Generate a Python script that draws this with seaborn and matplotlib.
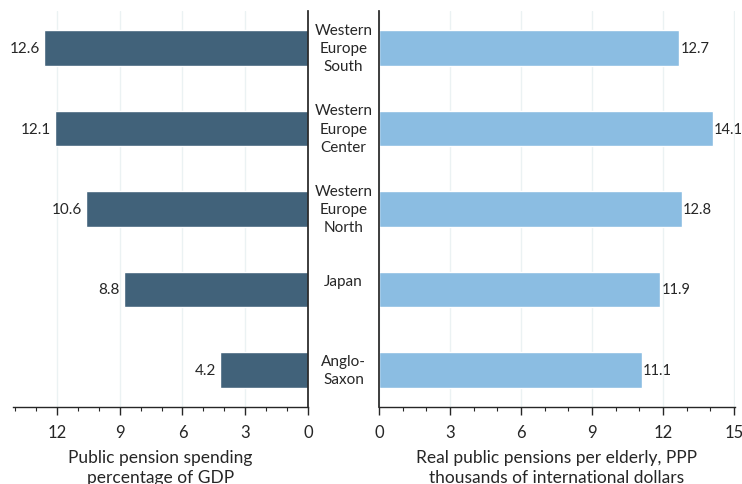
import numpy as np
import pandas as pd
import matplotlib.pyplot as plt
import seaborn as sns
from matplotlib.ticker import MultipleLocator
import matplotlib.transforms as mtransforms

regions = ["Western\nEurope\nSouth", "Western\nEurope\nCenter", "Western\nEurope\nNorth",
           "Japan", "Anglo-\nSaxon"]
spending_gdp = [12.6, 12.1, 10.6, 8.8, 4.2]
pension_per_elderly = [12.7, 14.1, 12.8, 11.9, 11.1]

left_ticks = [12, 9, 6, 3, 0]
right_ticks = [0, 3, 6, 9, 12, 15]

dark_blue = "#41627a"
light_blue = "#8bbde2"
text_col = "#262626"

sns.set_theme(style="white")
plt.rcParams['font.family'] = ['Lato', 'DejaVu Sans']

df = pd.DataFrame({"region": regions, "gdp": spending_gdp, "ppp": pension_per_elderly})

fig = plt.figure(figsize=(7.42, 4.85), dpi=100)
ax_l = fig.add_axes([13 / 742, 1 - 408 / 485, (308 - 13) / 742, (408 - 12) / 485])
ax_r = fig.add_axes([379 / 742, 1 - 408 / 485, (735 - 379) / 742, (408 - 12) / 485])

sns.barplot(data=df, x="gdp", y="region", order=regions, color=dark_blue,
            width=0.44, ax=ax_l, saturation=1)
sns.barplot(data=df, x="ppp", y="region", order=regions, color=light_blue,
            width=0.44, ax=ax_r, saturation=1)

ax_l.set_xlim(14.1, 0)
ax_r.set_xlim(0, 15.05)

for ax, ticks in [(ax_l, left_ticks), (ax_r, right_ticks)]:
    ax.set_ylim(4.46, -0.46)
    ax.set_xticks(ticks)
    ax.xaxis.set_minor_locator(MultipleLocator(1))
    ax.tick_params(axis="x", which="major", direction="out", length=6, width=1,
                   color=text_col, bottom=True, labelsize=12, labelcolor=text_col, pad=6)
    ax.tick_params(axis="x", which="minor", direction="out", length=3, width=0.8,
                   color=text_col, bottom=True)
    ax.set_yticks([])
    ax.set_ylabel("")
    ax.grid(axis="x", which="major", color="#ebf2f3", linewidth=1)
    ax.set_axisbelow(True)
    for s in ["top", "left", "right", "bottom"]:
        ax.spines[s].set_visible(False)
    ax.spines["bottom"].set_visible(True)
    ax.spines["bottom"].set_color(text_col)
    ax.spines["bottom"].set_linewidth(1)

ax_l.spines["right"].set_visible(True)
ax_l.spines["right"].set_color(text_col)
ax_r.spines["left"].set_visible(True)
ax_r.spines["left"].set_color(text_col)

ax_l.set_xlabel("Public pension spending\npercentage of GDP", fontsize=12.5,
                color=text_col, labelpad=7, linespacing=1.25)
ax_r.set_xlabel("Real public pensions per elderly, PPP\nthousands of international dollars",
                fontsize=12.5, color=text_col, labelpad=7, linespacing=1.25)

ax_l.bar_label(ax_l.containers[0], fmt="%.1f", padding=3, fontsize=11, color=text_col)
ax_r.bar_label(ax_r.containers[0], fmt="%.1f", padding=1, fontsize=10.5, color=text_col)

trans = mtransforms.blended_transform_factory(fig.transFigure, ax_r.transData)
for i, name in enumerate(regions):
    y = i - 0.1 if name == "Japan" else i
    ax_r.text(343.5 / 742, y, name, transform=trans, ha="center", va="center",
              fontsize=11, color=text_col, linespacing=1.4, clip_on=False)

fig.savefig("out.png", dpi=100)
